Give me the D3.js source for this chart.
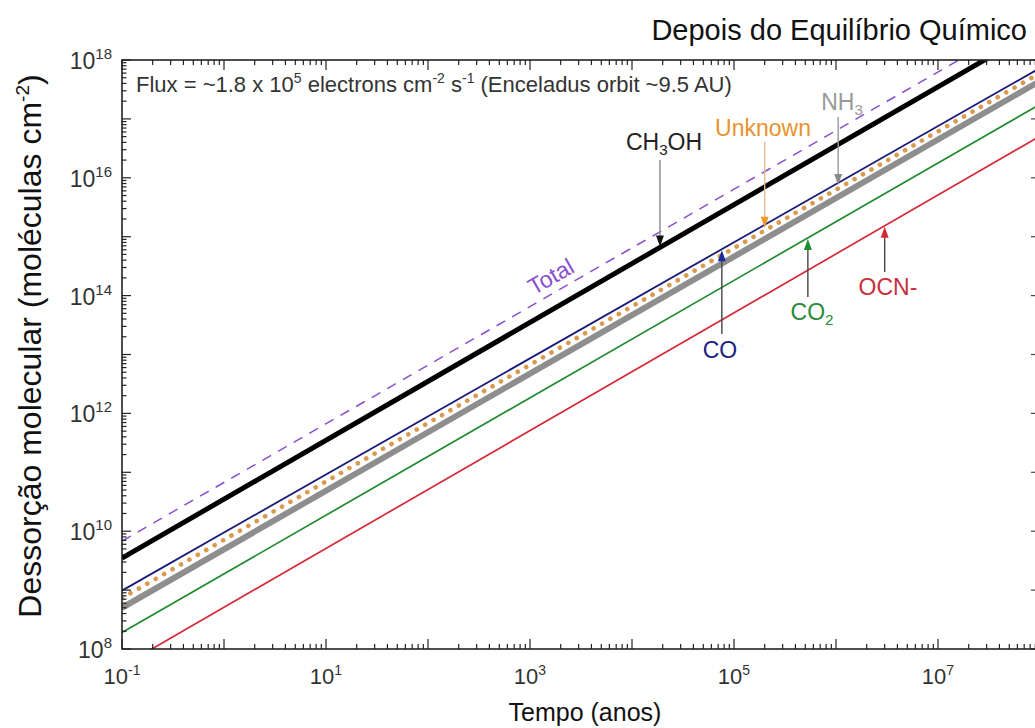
<!DOCTYPE html>
<html><head><meta charset="utf-8">
<script src="https://cdn.jsdelivr.net/npm/d3@7"></script>
<style>
html,body{margin:0;padding:0;background:#fff;}
svg{display:block;font-family:"Liberation Sans",Arial,sans-serif;}
</style></head>
<body><svg id="c" width="1035" height="728"></svg>
<script>
// ---- data ----
const timeEnds = [0.1, 1e8];                 // years
const totalVals   = [6.8e9, 6.2e18];
const ch3ohVals   = [3.5e9, 3.5e18];
const coVals      = [9.8e8, 7.3e17];
const unknownVals = [7.3e8, 6.0e17];
const nh3Vals     = [5.0e8, 4.4e17];
const co2Vals     = [1.9e8, 1.77e17];
const ocnVals     = [5.1e7, 5.1e16];

const xTickLabels = [-1, 1, 3, 5, 7];          // exponents labelled on x
const yTickLabels = [8, 10, 12, 14, 16, 18];    // exponents labelled on y

// annotation times (years) where arrows touch the curves
const annTimes = {ch3oh: 1.88e4, unknown: 2.0e5, nh3: 1.05e6, co: 7.6e4, co2: 5.3e5, ocn: 3.0e6, total: 2.2e3};

const svg = d3.select("#c");
const L = 122, R = 1040, T = 60, B = 649;
const x = d3.scaleLog().domain([0.1, 1e8]).range([L, R]);
const y = d3.scaleLog().domain([1e8, 1e18]).range([B, T]);

svg.append("defs").append("clipPath").attr("id", "clip")
  .append("rect").attr("x", L).attr("y", T).attr("width", R - L).attr("height", B - T);

function pts(vals){ return timeEnds.map((t,i)=>[t, vals[i]]); }
const line = d3.line().x(d=>x(d[0])).y(d=>y(d[1]));
function valAt(vals, t){
  const a = Math.log10(vals[0]), b = Math.log10(vals[1]);
  const ta = Math.log10(timeEnds[0]), tb = Math.log10(timeEnds[1]);
  return Math.pow(10, a + (b - a) * (Math.log10(t) - ta) / (tb - ta));
}

const series = [
  {v: ocnVals, c: "#d42a36", w: 1.7},
  {v: co2Vals, c: "#1f8a2f", w: 1.7},
  {v: nh3Vals, c: "#8e8e8e", w: 6},
  {v: unknownVals, c: "#d99a4e", w: 4.6, dash: "0.1 9.6", cap: "round"},
  {v: coVals, c: "#1a1a78", w: 1.8},
  {v: ch3ohVals, c: "#000000", w: 5},
  {v: totalVals, c: "#8a4fd0", w: 1.5, dash: "10 8"}
];
const g = svg.append("g").attr("clip-path", "url(#clip)");
series.forEach(s=>{
  g.append("path").attr("d", line(pts(s.v))).attr("fill","none")
    .attr("stroke", s.c).attr("stroke-width", s.w)
    .attr("stroke-dasharray", s.dash || null)
    .attr("stroke-linecap", s.cap || "butt");
});

// ---- axes ----
const axisCol = "#222";
const ax = svg.append("g");
function logTicks(lo, hi){ const out=[]; for(let e=lo;e<hi;e++){ for(let m=1;m<10;m++){ out.push({v:m*Math.pow(10,e), major:m===1}); } } out.push({v:Math.pow(10,hi),major:true}); return out; }
const xt = logTicks(-1, 8);
const yt = logTicks(8, 18);
xt.forEach(t=>{
  const px = x(t.v); const len = t.major ? 10 : 5;
  ax.append("line").attr("x1",px).attr("x2",px).attr("y1",B).attr("y2",B-len).attr("stroke",axisCol).attr("stroke-width",1.2);
  ax.append("line").attr("x1",px).attr("x2",px).attr("y1",T).attr("y2",T+len).attr("stroke",axisCol).attr("stroke-width",1.2);
});
yt.forEach(t=>{
  const py = y(t.v); const len = t.major ? 9 : 4.5;
  ax.append("line").attr("x1",L).attr("x2",L+len).attr("y1",py).attr("y2",py).attr("stroke",axisCol).attr("stroke-width",1.2);
  if (t.major) ax.append("line").attr("x1",R-9).attr("x2",R).attr("y1",py).attr("y2",py).attr("stroke","#444").attr("stroke-width",1.2);
});
ax.append("rect").attr("x",L).attr("y",T).attr("width",R-L).attr("height",B-T)
  .attr("fill","none").attr("stroke",axisCol).attr("stroke-width",1.6);

// tick labels
const tickCol = "#333";
xTickLabels.forEach(e=>{
  const t = svg.append("text").attr("x", x(Math.pow(10,e))).attr("y", 684)
    .attr("text-anchor","middle").attr("font-size",22).attr("fill",tickCol);
  t.append("tspan").text("10");
  t.append("tspan").attr("dy",-9).attr("font-size",14).text(e<0?"-"+(-e):String(e));
});
yTickLabels.forEach(e=>{
  const t = svg.append("text").attr("x", 112).attr("y", y(Math.pow(10,e))+9)
    .attr("text-anchor","end").attr("font-size",23).attr("fill",tickCol);
  t.append("tspan").text("10");
  t.append("tspan").attr("dy",-10).attr("font-size",15).text(String(e));
});

// axis titles
svg.append("text").attr("x",585).attr("y",721).attr("text-anchor","middle")
  .attr("font-size",25).attr("fill","#111").text("Tempo (anos)");
const yl = svg.append("text").attr("transform","translate(41,346) rotate(-90)")
  .attr("text-anchor","middle").attr("font-size",32).attr("fill","#111");
yl.append("tspan").text("Dessorção molecular (moléculas cm");
yl.append("tspan").attr("dy",-12).attr("font-size",19).text("-2");
yl.append("tspan").attr("dy",12).text(")");

// title
svg.append("text").attr("x",1027).attr("y",40).attr("text-anchor","end")
  .attr("font-size",29).attr("fill","#111").text("Depois do Equilíbrio Químico");

// flux text
const fx = svg.append("text").attr("x",136).attr("y",92).attr("font-size",22).attr("fill","#333");
fx.append("tspan").text("Flux = ~1.8 x 10");
fx.append("tspan").attr("dy",-9).attr("font-size",14).text("5");
fx.append("tspan").attr("dy",9).text(" electrons cm");
fx.append("tspan").attr("dy",-9).attr("font-size",14).text("-2");
fx.append("tspan").attr("dy",9).text(" s");
fx.append("tspan").attr("dy",-9).attr("font-size",14).text("-1");
fx.append("tspan").attr("dy",9).text(" (Enceladus orbit ~9.5 AU)");

// ---- annotations ----
function arrow(t, tipY, fromY, shaftCol, headCol){
  const px = x(t);
  const dir = fromY < tipY ? 1 : -1; // 1: pointing down
  svg.append("line").attr("x1",px).attr("x2",px).attr("y1",fromY).attr("y2",tipY - dir*7)
    .attr("stroke",shaftCol).attr("stroke-width",1.4);
  const b = tipY - dir*11;
  svg.append("path").attr("d",`M${px},${tipY} L${px-4},${b} L${px+4},${b} Z`).attr("fill",headCol);
}
function label(parts, cx, cy, col, size){
  size = size || 23;
  const t = svg.append("text").attr("x",cx).attr("y",cy).attr("text-anchor","middle")
    .attr("font-size",size).attr("fill",col);
  parts.forEach(p=>{
    if (p.sub) t.append("tspan").attr("dy",5).attr("font-size",size*0.66).text(p.sub);
    else t.append("tspan").attr("dy", p.back ? -5 : 0).text(p.t);
  });
  return t;
}
// CH3OH
arrow(annTimes.ch3oh, y(valAt(ch3ohVals, annTimes.ch3oh))-1, 160, "#888", "#111");
label([{t:"CH"},{sub:"3"},{t:"OH",back:true}], 664, 150, "#222");
// Unknown
arrow(annTimes.unknown, y(valAt(coVals, annTimes.unknown))+3, 142, "#e3bf8e", "#ef9a2a");
label([{t:"Unknown"}], 763, 136, "#e8932e");
// NH3
arrow(annTimes.nh3, y(valAt(coVals, annTimes.nh3))+2, 117, "#9a9a9a", "#8a8a8a");
label([{t:"NH"},{sub:"3"}], 842, 110, "#999");
// CO
arrow(annTimes.co, y(valAt(coVals, annTimes.co))+1, 334, "#444", "#1a2a9a");
label([{t:"CO"}], 720, 358, "#1a237e");
// CO2
arrow(annTimes.co2, y(valAt(co2Vals, annTimes.co2))+1, 297, "#444", "#1f8a2f");
label([{t:"CO"},{sub:"2"}], 812, 320, "#2a8a3a");
// OCN-
arrow(annTimes.ocn, y(valAt(ocnVals, annTimes.ocn))+1, 272, "#444", "#d42a36");
label([{t:"OCN-"}], 888, 295, "#c9303a");
// Total
const tp = [x(annTimes.total), y(valAt(totalVals, annTimes.total))];
const ang = Math.atan2(y(totalVals[1]) - y(totalVals[0]), x(timeEnds[1]) - x(timeEnds[0])) * 180 / Math.PI;
svg.append("text").attr("transform",`translate(${tp[0]-10},${tp[1]-3}) rotate(${ang})`)
  .attr("text-anchor","middle").attr("font-size",23).attr("fill","#8a4fd0").text("Total");
</script></body></html>
